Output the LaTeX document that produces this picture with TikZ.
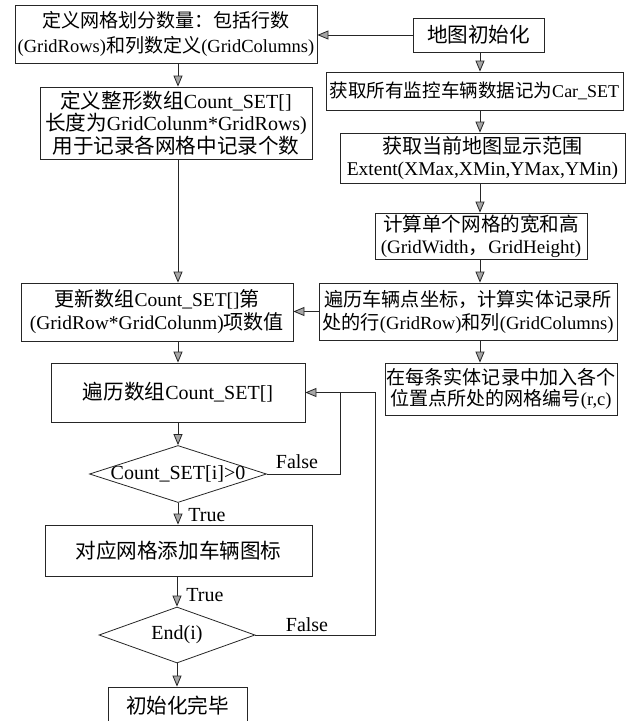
\documentclass[tikz,border=0pt]{standalone}
\usepackage{fontspec}
\setmainfont{Liberation Serif}
\newfontfamily\cjkfont[Scale=1.03]{Noto Sans CJK SC}
\newcommand\zh[1]{{\cjkfont #1}}
\usetikzlibrary{arrows.meta,shapes.geometric,calc}
\begin{document}
\begin{tikzpicture}[x=1pt,y=-1pt,
  box/.style={draw=black!85, line width=0.8pt, inner sep=0pt, align=center, font=\fontsize{20}{23}\selectfont},
  dia/.style={diamond, draw=black!85, line width=0.8pt, inner sep=0pt},
  txt/.style={inner sep=0pt, font=\fontsize{20}{23}\selectfont},
  arr/.style={-{Triangle[length=11pt,width=9pt,fill=gray!70]}, draw=black!85, line width=0.8pt},
  lin/.style={draw=black!85, line width=0.8pt}]
\useasboundingbox (0,0) rectangle (639,721);
\clip (0,0) rectangle (639,721);
\fill[white] (0,0) rectangle (639,721);
\coordinate (cL) at (178,0);
\coordinate (cR) at (480,0);
% right column
\node[box, minimum width=131pt, minimum height=34pt] (I) at (478.5,35) {\zh{地图初始化}};
\node[box, minimum width=297pt, minimum height=38pt, font=\fontsize{18}{22}\selectfont] (Car) at (474.5,91) {\zh{获取所有监控车辆数据记为}Car\_SET};
\node[box, minimum width=285pt, minimum height=50pt, font=\fontsize{19.5}{22.5}\selectfont] (Ext) at (482.5,158) {\zh{获取当前地图显示范围}\\Extent(XMax,XMin,YMax,YMin)};
\node[box, minimum width=212pt, minimum height=46pt, font=\fontsize{19}{22}\selectfont] (G) at (481,236) {\zh{计算单个网格的宽和高}\\(GridWidth\zh{，}GridHeight)};
\node[box, minimum width=298pt, minimum height=57pt, font=\fontsize{18.6}{23}\selectfont] (T) at (468,311.5) {\zh{遍历车辆点坐标，计算实体记录所}\\\zh{处的行}(GridRow)\zh{和列}(GridColumns)};
\node[box, minimum width=232pt, minimum height=52pt, font=\fontsize{18.5}{21}\selectfont] (P) at (501,389) {\zh{在每条实体记录中加入各个}\\\zh{位置点所处的网格编号}(r,c)};
% left column
\node[box, minimum width=302pt, minimum height=58pt, font=\fontsize{18.5}{25}\selectfont] (A) at (166,34) {\zh{定义网格划分数量：包括行数}\\(GridRows)\zh{和列数定义}(GridColumns)};
\node[box, minimum width=272pt, minimum height=72pt, font=\fontsize{20}{22.5}\selectfont] (B) at (176,123) {\zh{定义整形数组}Count\_SET[]\\\zh{长度为}GridColunm*GridRows)\\\zh{用于记录各网格中记录个数}};
\node[box, minimum width=272pt, minimum height=58pt, font=\fontsize{19.5}{23}\selectfont] (U) at (157,312) {\zh{更新数组}Count\_SET[]\zh{第}\\(GridRow*GridColunm)\zh{项数值}};
\node[box, minimum width=254pt, minimum height=59pt] (L) at (178,392.5) {\zh{遍历数组}Count\_SET[]};
\node[dia, minimum width=177pt, minimum height=57pt] (D1) at (178,474) {};
\node[txt] (D1t) at (D1.center) {Count\_SET[i]>0};
\node[box, minimum width=267pt, minimum height=51pt] (Add) at (178.5,550.5) {\zh{对应网格添加车辆图标}};
\node[dia, minimum width=156pt, minimum height=56pt] (E) at (177,635) {};
\node[txt] (Et) at (E.center) {End(i)};
\node[box, minimum width=139pt, minimum height=38pt] (Done) at (177.5,706) {\zh{初始化完毕}};
% labels
\node[txt] (f1) at (297,462) {False};
\node[txt] (f2) at (307,625) {False};
\node[txt] (t1) at (207,515) {True};
\node[txt] (t2) at (205,595) {True};
% connectors right column
\draw[arr] (I.west) -- (I.west -| A.east);
\draw[arr] (I.south -| cR) -- (Car.north -| cR);
\draw[arr] (Car.south -| cR) -- (Ext.north -| cR);
\draw[arr] (Ext.south -| cR) -- (G.north -| cR);
\draw[arr] (G.south -| cR) -- (T.north -| cR);
\draw[arr] (T.south -| cR) -- (P.north -| cR);
\draw[arr] (T.west) -- (T.west -| U.east);
% connectors left column
\draw[arr] (A.south -| cL) -- (B.north -| cL);
\draw[arr] (B.south -| cL) -- (U.north -| cL);
\draw[arr] (U.south -| cL) -- (L.north -| cL);
\draw[arr] (L.south -| cL) -- (D1.north);
\draw[arr] (D1.south) -- (Add.north -| D1.south);
\draw[arr] (Add.south -| E.north) -- (E.north);
\draw[arr] (E.south) -- (Done.north -| E.south);
% loops
\coordinate (j1) at (340,392.5);
\coordinate (j2) at (375,392.5);
\draw[lin] (D1.east) -| (j1);
\draw[arr] (E.east) -| (j2) -- (L.east);
\end{tikzpicture}
\end{document}
